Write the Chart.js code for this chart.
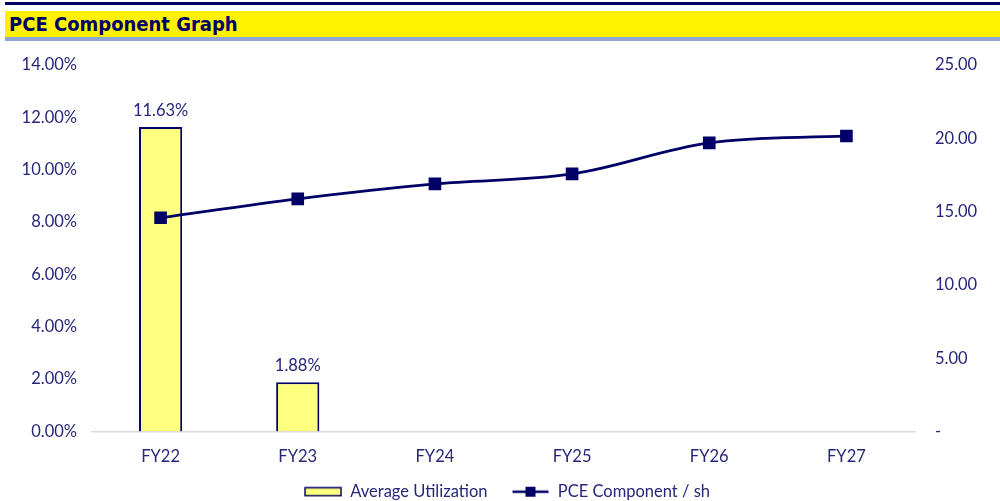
<!DOCTYPE html>
<html>
<head>
<meta charset="utf-8">
<script src="https://cdn.jsdelivr.net/npm/chart.js@4"></script>
<style>
  html, body { margin: 0; padding: 0; background: #fff; overflow: hidden; width: 1000px; height: 501px; }
  #topline { position: absolute; left: 5px; top: 2px; width: 995px; height: 3px; background: #000066; }
  #titlebar { position: absolute; left: 5px; top: 11px; width: 995px; height: 26px; background: #FFF200;
              font-family: "DejaVu Sans Condensed", "DejaVu Sans", sans-serif; font-stretch: condensed;
              font-weight: bold; font-size: 20px; color: #000066;
              line-height: 27px; padding-left: 4px; box-sizing: border-box; }
  #underline { position: absolute; left: 5px; top: 37px; width: 995px; height: 4px; background: #8FA5D5; }
  #wrap { position: absolute; left: 0; top: 0; width: 1000px; height: 510px; }
</style>
</head>
<body>
<div id="topline"></div>
<div id="titlebar">PCE Component Graph</div>
<div id="underline"></div>
<div id="wrap"><canvas id="chart"></canvas></div>
<script>
// chart data
const years = ['FY22', 'FY23', 'FY24', 'FY25', 'FY26', 'FY27'];
const avgUtilization = [11.63, 1.88, null, null, null, null];
const pceComponent = [14.58, 15.87, 16.89, 17.57, 19.69, 20.16];
const leftTicks = [0, 2, 4, 6, 8, 10, 12, 14];
const rightTicks = [0, 5, 10, 15, 20, 25];

const navy = '#000066';
const textColor = '#26267A';
const fontFamily = 'Lato, "Open Sans", sans-serif';
const fontSize = 16.5;

// legend icons drawn on small canvases (blank on the left = gap between items)
function barIcon() {
    const c = document.createElement('canvas');
    c.width = 52; c.height = 11;
    const g = c.getContext('2d');
    g.fillStyle = '#FFFF80';
    g.fillRect(15, 1.5, 36, 8);
    g.strokeStyle = navy;
    g.lineWidth = 1.5;
    g.strokeRect(15, 1.5, 36, 8);
    return c;
}
function lineIcon() {
    const c = document.createElement('canvas');
    c.width = 52; c.height = 12;
    const g = c.getContext('2d');
    g.strokeStyle = navy;
    g.lineWidth = 2.5;
    g.beginPath();
    g.moveTo(15, 6);
    g.lineTo(51, 6);
    g.stroke();
    g.fillStyle = navy;
    g.fillRect(28, 1, 10, 10);
    return c;
}

// value labels above the bars
const barLabels = {
    id: 'barLabels',
    afterDatasetsDraw(chart) {
        const ctx = chart.ctx;
        const meta = chart.getDatasetMeta(1);
        ctx.save();
        ctx.font = fontSize + 'px ' + fontFamily;
        ctx.fillStyle = textColor;
        ctx.textAlign = 'center';
        ctx.textBaseline = 'bottom';
        meta.data.forEach((bar, i) => {
            const v = avgUtilization[i];
            if (v == null) return;
            ctx.fillText(v.toFixed(2) + '%', bar.x, bar.y - 8);
        });
        ctx.restore();
    }
};

const ctx = document.getElementById('chart').getContext('2d');
new Chart(ctx, {
    type: 'bar',
    data: {
        labels: years,
        datasets: [{
            type: 'line',
            label: 'PCE Component / sh',
            data: pceComponent,
            yAxisID: 'y1',
            borderColor: navy,
            backgroundColor: navy,
            borderWidth: 2.75,
            tension: 0.35,
            pointStyle: 'rect',
            pointRadius: 7,
            pointHoverRadius: 7,
            order: 0,
        }, {
            type: 'bar',
            label: 'Average Utilization',
            data: avgUtilization,
            yAxisID: 'y',
            backgroundColor: '#FFFF80',
            borderColor: navy,
            borderWidth: 2,
            categoryPercentage: 1,
            barPercentage: 0.315,
            order: 1,
        }],
    },
    options: {
        responsive: true,
        maintainAspectRatio: false,
        animation: false,
        layout: { padding: { top: 65, left: 0, right: 0, bottom: 0 } },
        plugins: {
            tooltip: { enabled: false },
            legend: {
                position: 'bottom',
                labels: {
                    usePointStyle: true,
                    pointStyleWidth: 52,
                    color: textColor,
                    font: { family: fontFamily, size: fontSize },
                    padding: 10,
                    generateLabels(chart) {
                        return [
                            { text: 'Average Utilization', pointStyle: barIcon(), fontColor: textColor, datasetIndex: 1, lineWidth: 0, strokeStyle: 'transparent', fillStyle: 'transparent' },
                            { text: 'PCE Component / sh', pointStyle: lineIcon(), fontColor: textColor, datasetIndex: 0, lineWidth: 0, strokeStyle: 'transparent', fillStyle: 'transparent' },
                        ];
                    },
                },
            },
        },
        scales: {
            x: {
                grid: { display: false, drawTicks: false },
                border: { display: true, color: '#D9D9D9', width: 1.5 },
                ticks: { color: textColor, font: { family: fontFamily, size: fontSize }, padding: 15 },
                afterFit(scale) { scale.height = 42; },
            },
            y: {
                position: 'left',
                min: 0,
                max: 14,
                afterBuildTicks(scale) { scale.ticks = leftTicks.map(v => ({ value: v })); },
                grid: { display: false, drawTicks: false },
                border: { display: false },
                ticks: {
                    color: textColor,
                    font: { family: fontFamily, size: fontSize },
                    padding: 15,
                    callback: v => v.toFixed(2) + '%',
                },
                afterFit(scale) { scale.width = 92; },
            },
            y1: {
                position: 'right',
                min: 0,
                max: 25,
                afterBuildTicks(scale) { scale.ticks = rightTicks.map(v => ({ value: v })); },
                grid: { display: false, drawTicks: false },
                border: { display: false },
                ticks: {
                    color: textColor,
                    font: { family: fontFamily, size: fontSize },
                    padding: 20,
                    callback: v => v === 0 ? '-' : v.toFixed(2),
                },
                afterFit(scale) { scale.width = 85; },
            },
        },
    },
    plugins: [barLabels],
});
</script>
</body>
</html>
